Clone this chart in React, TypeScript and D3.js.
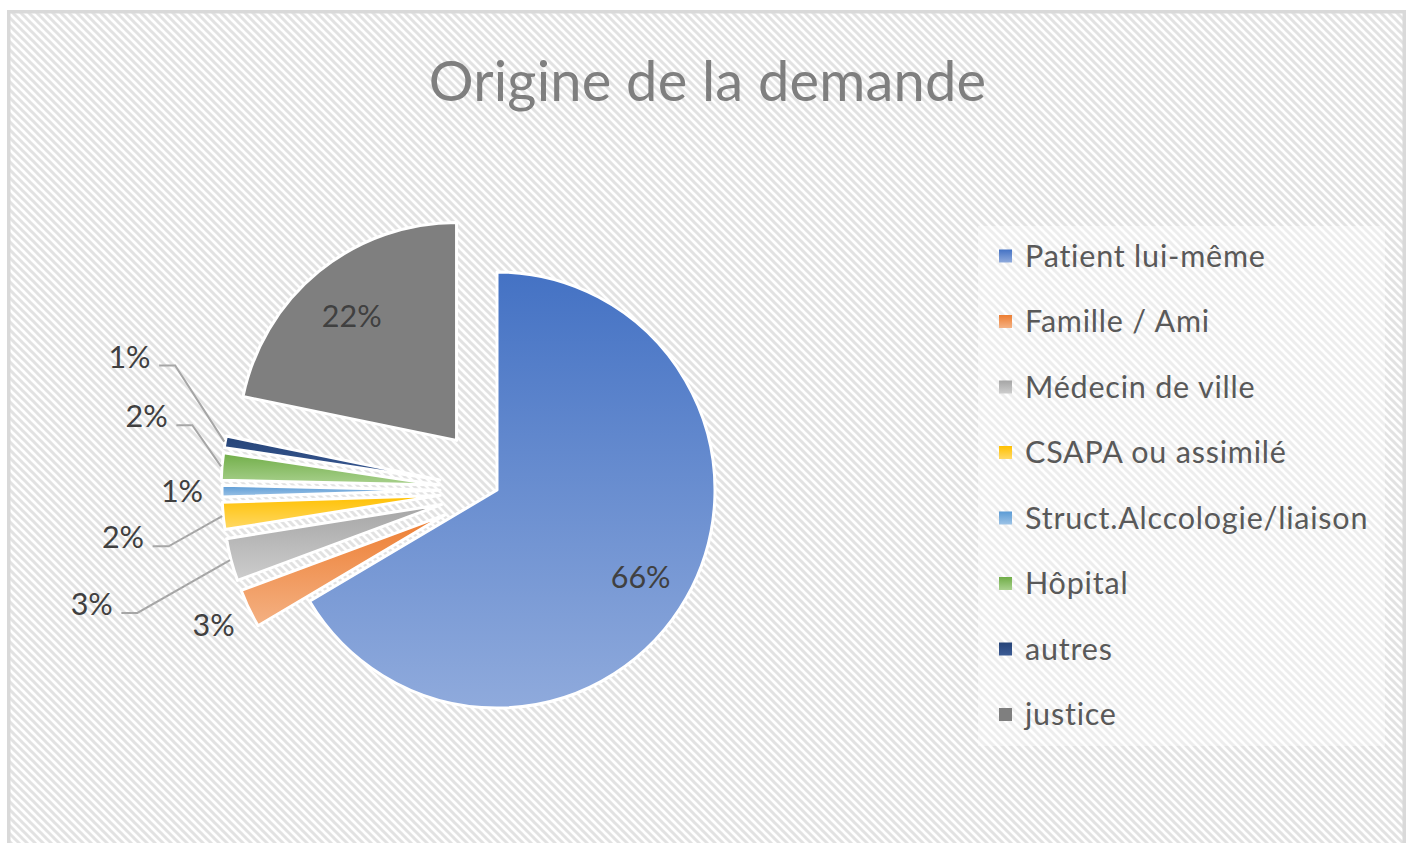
import React from 'react';
import * as d3 from 'd3';

const title = 'Origine de la demande';
const categories = [
  'Patient lui-même',
  'Famille / Ami',
  'Médecin de ville',
  'CSAPA ou assimilé',
  'Struct.Alccologie/liaison',
  'Hôpital',
  'autres',
  'justice',
];
const counts = [232, 10, 11, 7, 3, 7, 3, 76];
const colorsDark = ['#4472C4', '#ED7D31', '#A5A5A5', '#FFC000', '#5B9BD5', '#70AD47', '#264478', '#7F7F7F'];
const colorsLight = ['#8FAADC', '#F4B183', '#CDCDCD', '#FFD966', '#9DC3E6', '#A9D18E', '#3A5A94', '#7F7F7F'];

// layout / style
const W = 1410;
const H = 843;
const CX = 497;
const CY = 490;
const R = 218;
const EXPLODE = [0, 57, 57, 57, 57, 58, 58, 64];
const FONT = "Lato, 'Open Sans', sans-serif";
const LABEL_FS = 30.5;
type LabelCfg = { mode: 'inside' | 'outside'; k?: number; dist?: number; da: number; leader: boolean };
const labelLayout: LabelCfg[] = [
  { mode: 'inside', k: 0.77, da: 1.5, leader: false },
  { mode: 'outside', dist: 314, da: 0, leader: false },
  { mode: 'outside', dist: 421, da: -1, leader: true },
  { mode: 'outside', dist: 377, da: -1.8, leader: true },
  { mode: 'outside', dist: 315, da: 0, leader: false },
  { mode: 'outside', dist: 358, da: 7, leader: true },
  { mode: 'outside', dist: 391, da: 9.9, leader: true },
  { mode: 'inside', k: 0.745, da: -1, leader: false },
];

const rad = (deg: number) => (deg * Math.PI) / 180;
const polar = (a: number, r: number): [number, number] => [r * Math.sin(a), -r * Math.cos(a)];

export default function App() {
  const total = d3.sum(counts);
  const pie = d3.pie<number>().sort(null).value((d) => d).startAngle(0).endAngle(2 * Math.PI);
  const arcs = pie(counts);
  const arcGen = d3.arc<d3.PieArcDatum<number>>().innerRadius(0).outerRadius(R);

  const legendY = d3.scalePoint<string>().domain(categories).range([256, 714.5]);

  const textWidth = (s: string) => {
    let w = 0;
    for (const ch of s) w += ch === '%' ? 0.84 : 0.58;
    return w * LABEL_FS;
  };

  return (
    <svg
      width={W}
      height={H}
      style={{ position: 'absolute', left: 0, top: 0, display: 'block' }}
      fontFamily={FONT}
    >
      <defs>
        <pattern id="hatch" width="8" height="8" patternUnits="userSpaceOnUse">
          <rect width="8" height="8" fill="#ffffff" />
          <path d="M-2,-2 L10,10 M-2,6 L2,10 M6,-2 L10,2" stroke="#e2e2e2" strokeWidth="3" />
        </pattern>
        {categories.map((c, i) => (
          <linearGradient key={c} id={`g${i}`} x1="0" y1="0" x2="0" y2="1">
            <stop offset="0" stopColor={colorsDark[i]} />
            <stop offset="1" stopColor={colorsLight[i]} />
          </linearGradient>
        ))}
      </defs>
      <rect x={0} y={0} width={W} height={H} fill="#ffffff" />
      <rect x={8.75} y={11.75} width={1395.5} height={845} fill="url(#hatch)" stroke="#d9d9d9" strokeWidth={3.5} />

      <text x={707.5} y={101} textAnchor="middle" fontSize={56} letterSpacing={0.2} fill="#7f7f7f">
        {title}
      </text>

      {arcs.map((a, i) => {
        const mid = (a.startAngle + a.endAngle) / 2;
        const [ox, oy] = polar(mid, EXPLODE[i]);
        return (
          <path
            key={categories[i]}
            d={arcGen(a) || ''}
            transform={`translate(${CX + ox},${CY + oy})`}
            fill={`url(#g${i})`}
            stroke="#ffffff"
            strokeWidth={3}
            strokeLinejoin="round"
          />
        );
      })}

      {arcs.map((a, i) => {
        const cfg = labelLayout[i];
        const mid = (a.startAngle + a.endAngle) / 2;
        const [ox, oy] = polar(mid, EXPLODE[i]);
        const ax = CX + ox;
        const ay = CY + oy;
        const label = `${Math.round((a.value / total) * 100)}%`;
        let cx: number;
        let cy: number;
        if (cfg.mode === 'inside') {
          const [px, py] = polar(mid + rad(cfg.da), (cfg.k as number) * R);
          cx = ax + px;
          cy = ay + py;
        } else {
          const [px, py] = polar(mid + rad(cfg.da), cfg.dist as number);
          cx = CX + px;
          cy = CY + py;
        }
        const baseline = cy + 11;
        let leader: React.ReactNode = null;
        if (cfg.leader) {
          const sx = cx + textWidth(label) / 2 + 8;
          const ly = baseline - 2;
          const [ex, ey] = polar(mid, R + 1);
          const path = d3.line()([
            [sx, ly],
            [sx + 16, ly],
            [ax + ex, ay + ey],
          ]);
          leader = <path d={path || ''} fill="none" stroke="#a6a6a6" strokeWidth={2} />;
        }
        return (
          <g key={`l${i}`}>
            {leader}
            <text x={cx} y={baseline} textAnchor="middle" fontSize={LABEL_FS} fill="#404040">
              {label}
            </text>
          </g>
        );
      })}

      <rect x={978} y={226} width={407} height={520} fill="#ffffff" fillOpacity={0.4} />
      {categories.map((c, i) => {
        const y = legendY(c) as number;
        return (
          <g key={`lg${i}`}>
            <rect x={999} y={y - 6.5} width={13} height={13} fill={`url(#g${i})`} />
            <text x={1025} y={y} dy="0.36em" fontSize={30.5} letterSpacing={0.8} fill="#595959">
              {c}
            </text>
          </g>
        );
      })}
    </svg>
  );
}
